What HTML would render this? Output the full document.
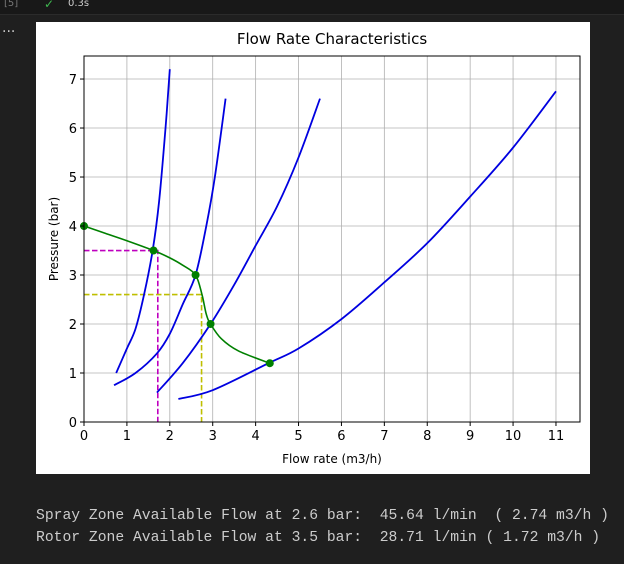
<!DOCTYPE html>
<html><head><meta charset="utf-8"><style>
body{margin:0;width:624px;height:564px;background:#1f1f1f;overflow:hidden;position:relative;font-family:"DejaVu Sans",sans-serif}
.top{position:absolute;left:0;top:0;width:624px;height:14px;background:#181818;border-bottom:1px solid #2b2b2b}
.out{position:absolute;left:36px;color:#cccccc;font-family:"Liberation Mono",monospace;font-size:14.7px;white-space:pre}
svg text{font-family:"DejaVu Sans",sans-serif}
</style></head><body>
<div class="top">
<span style="position:absolute;left:4px;top:-2px;color:#777;font-size:10px">[5]</span>
<span style="position:absolute;left:44px;top:-3px;color:#3fb950;font-size:12px">✓</span>
<span style="position:absolute;left:68px;top:-2px;color:#ccc;font-size:10px">0.3s</span>
</div>
<div style="position:absolute;left:2px;top:20px;color:#ccc;font-size:14px">...</div>
<svg id="chart" width="624" height="564" style="position:absolute;left:0;top:0">
<rect x="36" y="22" width="554" height="452" fill="#fff"/>
<text x="332" y="44" font-size="15" text-anchor="middle" fill="#000">Flow Rate Characteristics</text>
<g id="grid"></g><g id="series"></g><g id="axes"></g>
<text x="332" y="463" font-size="12" text-anchor="middle">Flow rate  (m3/h)</text>
<text transform="translate(58,239) rotate(-90)" font-size="12" text-anchor="middle">Pressure (bar)</text>
</svg>
<div class="out" style="top:508px">Spray Zone Available Flow at 2.6 bar:  45.64 l/min  ( 2.74 m3/h )</div>
<div class="out" style="top:530px">Rotor Zone Available Flow at 3.5 bar:  28.71 l/min ( 1.72 m3/h )</div>
<script>
const xTicks=[0,1,2,3,4,5,6,7,8,9,10,11];
const yTicks=[0,1,2,3,4,5,6,7];
const curve1=[[0.75,1],[1.0,1.5],[1.2,1.9],[1.4,2.6],[1.6,3.5],[1.75,4.5],[1.9,6],[2.0,7.2]];
const curve2=[[0.7,0.75],[1.2,1.0],[1.7,1.4],[2.0,1.8],[2.3,2.4],[2.6,3.0],[2.85,4],[3.05,5],[3.3,6.6]];
const curve3=[[1.7,0.6],[2.3,1.2],[2.95,2.0],[3.5,2.8],[4.0,3.6],[4.5,4.4],[5.0,5.4],[5.5,6.6]];
const curve4=[[2.2,0.47],[3,0.65],[4.3,1.2],[5,1.5],[6,2.1],[7,2.85],[8,3.65],[9,4.6],[10,5.6],[11,6.75]];
const systemCurve=[[0,4],[0.5,3.85],[1,3.7],[1.62,3.5],[2.0,3.35],[2.3,3.2],[2.6,3.0],[2.75,2.6],[2.85,2.2],[2.95,2.0],[3.2,1.7],[3.6,1.45],[4.33,1.2]];
const markers=[[0,4],[1.62,3.5],[2.6,3],[2.95,2],[4.33,1.2]];
const sprayPoint=[2.74,2.6];
const rotorPoint=[1.72,3.5];
const X0=84,X1=580,Y0=422,Y1=56,XMAX=11.56,YMAX=7.47;
const sx=v=>X0+v/XMAX*(X1-X0), sy=v=>Y0-v/YMAX*(Y0-Y1);
const NS='http://www.w3.org/2000/svg';
function mk(parent,tag,attrs){const e=document.createElementNS(NS,tag);for(const k in attrs)e.setAttribute(k,attrs[k]);document.getElementById(parent).appendChild(e);return e;}
function smooth(pts){const p=pts.map(d=>[sx(d[0]),sy(d[1])]);let s='M'+p[0][0]+','+p[0][1];
for(let i=0;i<p.length-1;i++){const a=p[Math.max(i-1,0)],b=p[i],c=p[i+1],d=p[Math.min(i+2,p.length-1)];
s+=' C'+(b[0]+(c[0]-a[0])/6)+','+(b[1]+(c[1]-a[1])/6)+' '+(c[0]-(d[0]-b[0])/6)+','+(c[1]-(d[1]-b[1])/6)+' '+c[0]+','+c[1];}return s;}
xTicks.forEach(t=>{
const g=mk('grid','line',{x1:sx(t),x2:sx(t),y1:Y1,y2:Y0,stroke:'#b0b0b0','stroke-width':0.8});

const k=mk('axes','line',{x1:sx(t),x2:sx(t),y1:Y0,y2:Y0+4,stroke:'#000'});

const l=mk('axes','text',{x:sx(t),y:Y0+18,'font-size':13,'text-anchor':'middle'});l.textContent=t;
});
yTicks.forEach(t=>{
const g=mk('grid','line',{x1:X0,x2:X1,y1:sy(t),y2:sy(t),stroke:'#b0b0b0','stroke-width':0.8});

const k=mk('axes','line',{x1:X0-4,x2:X0,y1:sy(t),y2:sy(t),stroke:'#000'});

const l=mk('axes','text',{x:X0-7,y:sy(t)+5,'font-size':13,'text-anchor':'end'});l.textContent=t;
});
const fr=mk('axes','rect',{x:X0,y:Y1,width:X1-X0,height:Y0-Y1,fill:'none',stroke:'#000','stroke-width':1});

function dash(pt,color,name){
const h=mk('series','path',{d:`M${sx(0)},${sy(pt[1])} H${sx(pt[0])} V${sy(0)}`,fill:'none',stroke:color,'stroke-width':1.6,'stroke-dasharray':'5.5,2.5'});
}
dash(rotorPoint,'#bf00bf','rotor-guide-line');
dash(sprayPoint,'#bfbf00','spray-guide-line');
[curve1,curve2,curve3,curve4].forEach((c,i)=>{
const p=mk('series','path',{d:smooth(c),fill:'none',stroke:'#0000e0','stroke-width':1.8});
});
const sc=mk('series','path',{d:smooth(systemCurve),fill:'none',stroke:'#008000','stroke-width':1.6});

markers.forEach(m=>{const c=mk('series','circle',{cx:sx(m[0]),cy:sy(m[1]),r:4,fill:'#008000'});
});
</script>
</body></html>
